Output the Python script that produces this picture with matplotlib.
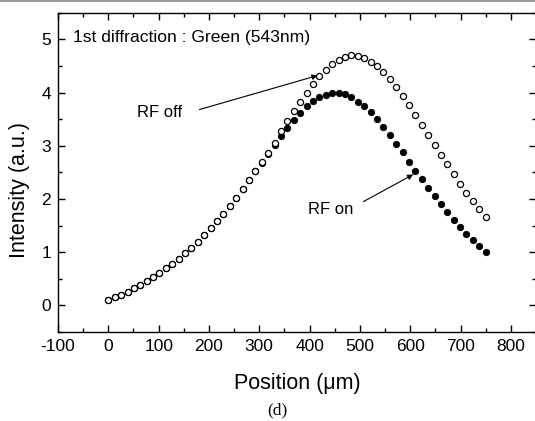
import numpy as np
import matplotlib
matplotlib.use("Agg")
import matplotlib.pyplot as plt
from matplotlib.lines import Line2D
from matplotlib.ticker import MultipleLocator

plt.rcParams['font.family'] = ['Liberation Sans', 'DejaVu Sans']
plt.rcParams['axes.unicode_minus'] = False

# Scan positions (um): 60 evenly spaced samples from 0 to 750
position = np.linspace(0, 750, 60)

rf_off = [0.10, 0.15, 0.20, 0.26, 0.32, 0.38, 0.45, 0.53, 0.61, 0.70,
          0.78, 0.88, 0.98, 1.08, 1.20, 1.32, 1.45, 1.58, 1.72, 1.87,
          2.02, 2.18, 2.35, 2.52, 2.69, 2.87, 3.06, 3.27, 3.46, 3.65,
          3.83, 4.00, 4.16, 4.31, 4.43, 4.54, 4.62, 4.67, 4.70, 4.69,
          4.65, 4.58, 4.50, 4.38, 4.25, 4.10, 3.93, 3.77, 3.58, 3.39,
          3.21, 3.02, 2.83, 2.65, 2.47, 2.29, 2.12, 1.97, 1.82, 1.67]

rf_on = [0.10, 0.15, 0.20, 0.26, 0.32, 0.38, 0.45, 0.53, 0.61, 0.70,
         0.78, 0.88, 0.98, 1.08, 1.20, 1.32, 1.45, 1.58, 1.72, 1.87,
         2.02, 2.18, 2.35, 2.52, 2.68, 2.85, 3.01, 3.18, 3.33, 3.48,
         3.62, 3.74, 3.84, 3.91, 3.96, 3.99, 3.99, 3.97, 3.91, 3.83,
         3.74, 3.63, 3.50, 3.35, 3.20, 3.04, 2.88, 2.70, 2.53, 2.37,
         2.21, 2.05, 1.90, 1.75, 1.61, 1.48, 1.35, 1.23, 1.11, 1.00]

x_ticks = [-100, 0, 100, 200, 300, 400, 500, 600, 700, 800]
y_ticks = [0, 1, 2, 3, 4, 5]

fig = plt.figure(figsize=(5.35, 4.21), dpi=100)
ax = fig.add_axes([58/535, 1-332/421, 478/535, (332-12.7)/421])

ax.plot(position, rf_on, 'o', color='black', ms=4.6, mew=0.6, zorder=3)
ax.plot(position, rf_off, 'o', mfc='white', mec='black', ms=4.4, mew=0.9, zorder=4)

ax.set_xlim(-100, 850)
ax.set_ylim(-0.5, 5.5)
ax.set_xticks(x_ticks)
ax.set_yticks(y_ticks)
ax.xaxis.set_minor_locator(MultipleLocator(50))
ax.yaxis.set_minor_locator(MultipleLocator(0.5))
ax.tick_params(which='both', direction='in', top=True, right=True, labelsize=12.5, pad=5)
ax.tick_params(which='major', length=5, width=1)
ax.tick_params(which='minor', length=3, width=1)
for s in ax.spines.values():
    s.set_linewidth(1.0)

ax.set_xlabel('Position (μm)', fontsize=15.5, labelpad=14)
ax.set_ylabel('Intensity (a.u.)', fontsize=15.5)
ax.yaxis.set_label_coords(-0.058, 0.445)

ax.text(-70, 5.04, '1st diffraction : Green (543nm)', fontsize=12.6, ha='left', va='center')

ax.text(102, 3.63, 'RF off', fontsize=12, ha='center', va='center')
ax.text(442, 1.80, 'RF on', fontsize=12, ha='center', va='center')
arrow = dict(arrowstyle='-|>', lw=0.8, color='black', mutation_scale=8, shrinkA=0, shrinkB=0)
ax.annotate('', xy=(416, 4.32), xytext=(181, 3.68), arrowprops=arrow)
ax.annotate('', xy=(606, 2.46), xytext=(507, 1.95), arrowprops=arrow)

fig.text(277/535, 1-410/421, '(d)', fontsize=12.5, ha='center', va='center',
         family=['Liberation Serif', 'DejaVu Serif'])

fig.add_artist(Line2D([0, 1], [1-0.6/421, 1-0.6/421], transform=fig.transFigure,
                      color='#888888', lw=1.2))

fig.savefig('out.png', dpi=100)
